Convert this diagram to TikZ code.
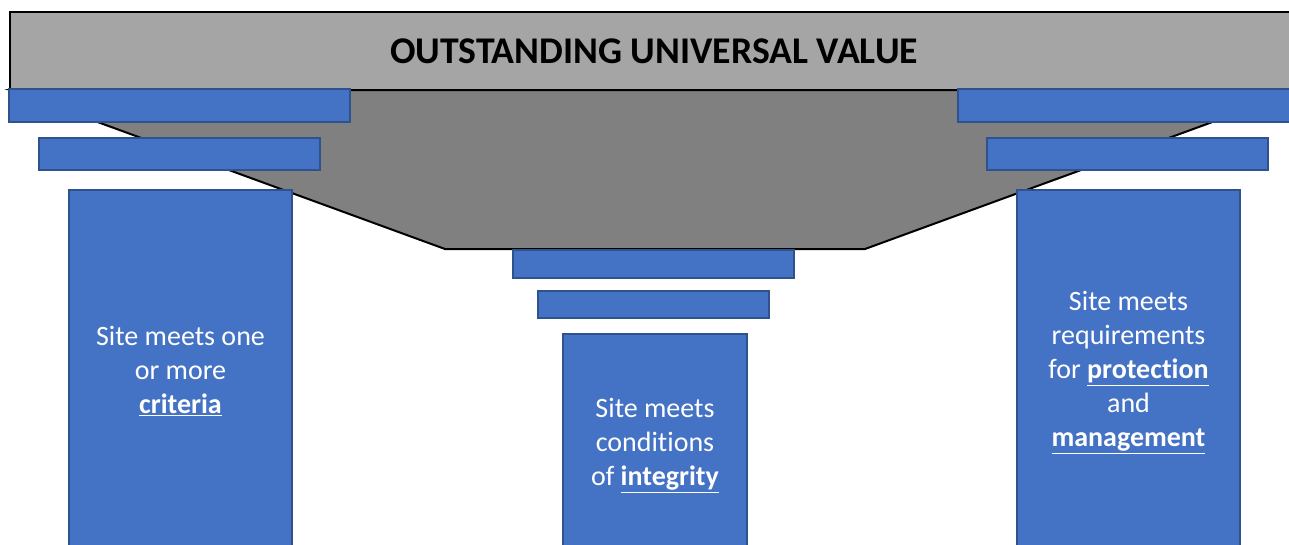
\documentclass[tikz,border=0pt]{standalone}
\usepackage{fontspec}
\setmainfont{Carlito}[Ligatures=NoCommon]
\usetikzlibrary{calc}

\definecolor{pillarblue}{HTML}{4472C4}
\definecolor{pillaredge}{HTML}{2F528F}
\definecolor{roofgray}{HTML}{A5A5A5}
\definecolor{beamgray}{HTML}{808080}

\begin{document}
\begin{tikzpicture}[x=0.75pt,y=-0.75pt]

		\tikzset{slab/.style={fill=pillarblue, draw=pillaredge, line width=0.9pt},
			pillartext/.style={text=white, align=center, font=\fontsize{21}{25.5}\selectfont}}

		\clip (0, 0) rectangle (1289, 544);

		% Roof
		\coordinate (rf1) at (10, 12);
		\coordinate (rf2) at (1300, 90);

		% Beam
		\coordinate (bm1) at (10, 90);
		\coordinate (bm2) at (1300, 90);
		\coordinate (bm3) at (865, 249);
		\coordinate (bm4) at (445, 249);

		\draw [fill=roofgray, line width=1.5pt] (rf1) rectangle (rf2);
		\draw [fill=beamgray, line width=1.5pt] (bm1) -- (bm4) -- (bm3) -- (bm2) -- cycle;

		\node (title) at (654, 51) {\fontsize{28.3}{34}\selectfont\bfseries OUTSTANDING UNIVERSAL VALUE};

		% left pillar
		\draw [slab] (9, 89) rectangle (350, 122);
		\draw [slab] (39, 138) rectangle (320, 170);
		\draw [slab] (69, 190) rectangle (292, 560);

		% middle pillar
		\draw [slab] (513, 250) rectangle (794, 278);
		\draw [slab] (538, 291) rectangle (769, 318);
		\draw [slab] (563, 334) rectangle (747, 560);

		% right pillar
		\draw [slab] (958, 89) rectangle (1300, 122);
		\draw [slab] (987, 138) rectangle (1268, 170);
		\draw [slab] (1017, 190) rectangle (1240, 560);

		\node [pillartext] (criteria) at (180.5, 371) {Site meets one\\or more\\\underline{\textbf{criteria}}};
		\node [pillartext] (integrity) at (655, 446) {Site meets\\conditions\\of \underline{\textbf{integrity}}};
		\node [pillartext] (protection) at (1128.5, 373) {Site meets\\requirements\\for \underline{\textbf{protection}}\\and\\\underline{\textbf{management}}};

	\end{tikzpicture}
\end{document}
